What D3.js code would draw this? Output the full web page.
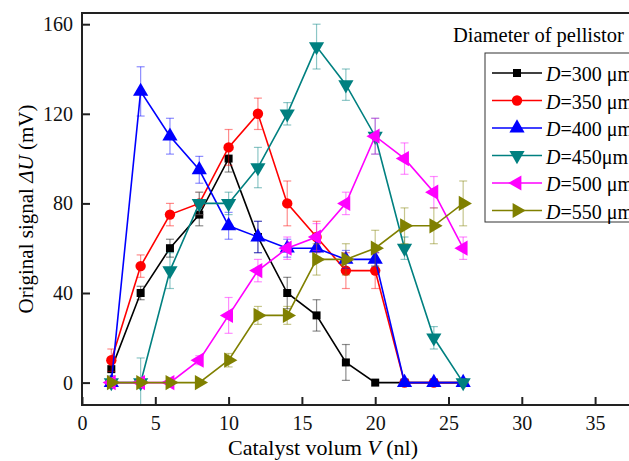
<!DOCTYPE html>
<html>
<head>
    <script src="https://d3js.org/d3.v7.min.js"></script>
    <style>
        body {margin: 0; background: #fff; font-family: "Liberation Serif", "Times New Roman", serif;}
        svg {display: block;}
        .axis path, .axis line {stroke: #222; stroke-width: 2px;}
        .axis text {font-family: "Liberation Serif", serif; font-size: 20px; fill: #111;}
    </style>
</head>
<body>
    <svg width="629" height="461"></svg>
    <script>
        // Catalyst volume (nl)
        let volumes = [2, 4, 6, 8, 10, 12, 14, 16, 18, 20, 22, 24, 26];

        // Signal (mV) and error per pellistor diameter
        let d300 = [6, 40, 60, 75, 100, 65, 40, 30, 9, 0, 0, 0, 0];
        let d300Err = [3, 3, 4, 5, 6, 7, 7, 7, 8, 0, 0, 0, 0];
        let d350 = [10, 52, 75, 80, 105, 120, 80, 65, 50, 50, 0, 0, 0];
        let d350Err = [5, 5, 5, 5, 8, 7, 10, 7, 8, 8, 0, 0, 0];
        let d400 = [0, 130, 110, 95, 70, 65, 60, 60, 55, 55, 0, 0, 0];
        let d400Err = [0, 11, 8, 6, 6, 7, 4, 4, 4, 3, 0, 0, 0];
        let d450 = [0, 0, 50, 80, 80, 96, 120, 150, 133, 110, 60, 20, 0];
        let d450Err = [0, 11, 8, 5, 5, 9, 5, 10, 7, 8, 5, 5, 0];
        let d500 = [0, 0, 0, 10, 30, 50, 60, 65, 80, 110, 100, 85, 60];
        let d500Err = [0, 0, 0, 2, 8, 5, 5, 6, 5, 8, 7, 7, 5];
        let d550 = [0, 0, 0, 0, 10, 30, 30, 55, 55, 60, 70, 70, 80];
        let d550Err = [0, 0, 0, 0, 3, 4, 4, 7, 7, 8, 8, 8, 10];

        let seriesLabels = ["300 μm", "350 μm", "400 μm", "450μm", "500 μm", "550 μm"];
        let xTicks = [0, 5, 10, 15, 20, 25, 30, 35];
        let yTicks = [0, 40, 80, 120, 160];

        let series = [
            {label: seriesLabels[0], values: d300, err: d300Err, color: "#000000", shape: "square"},
            {label: seriesLabels[1], values: d350, err: d350Err, color: "#ff0000", shape: "circle"},
            {label: seriesLabels[2], values: d400, err: d400Err, color: "#0000ff", shape: "up"},
            {label: seriesLabels[3], values: d450, err: d450Err, color: "#008080", shape: "down"},
            {label: seriesLabels[4], values: d500, err: d500Err, color: "#ff00ff", shape: "left"},
            {label: seriesLabels[5], values: d550, err: d550Err, color: "#808000", shape: "right"}
        ];

        let svg = d3.select("svg");
        let pLeft = 82, pTop = 13, pBottom = 405, pRight = 690;

        let x = d3.scaleLinear().domain([0, 40]).range([pLeft, pLeft + 40 * 14.66]);
        let y = d3.scaleLinear().domain([-10, 165]).range([pBottom, pTop]);

        svg.append("clipPath").attr("id", "plot")
            .append("rect").attr("x", pLeft).attr("y", pTop)
            .attr("width", pRight - pLeft).attr("height", pBottom - pTop);

        // Marker paths
        function marker(shape) {
            if (shape === "square") return d3.symbol().type(d3.symbolSquare).size(64)();
            if (shape === "circle") return d3.symbol().type(d3.symbolCircle).size(85)();
            return d3.symbol().type(d3.symbolTriangle).size(100)();
        }
        function rotation(shape) {
            return {down: 180, left: -90, right: 90}[shape] || 0;
        }

        let plot = svg.append("g").attr("clip-path", "url(#plot)");

        series.forEach(s => {
            let pts = volumes.map((v, i) => ({x: v, y: s.values[i], e: s.err[i]}));
            let g = plot.append("g");

            // error bars
            let eb = g.selectAll(".eb").data(pts.filter(p => p.e > 0)).enter().append("g")
                .attr("stroke", s.color).attr("stroke-opacity", 0.45).attr("stroke-width", 1.2);
            eb.append("line")
                .attr("x1", p => x(p.x)).attr("x2", p => x(p.x))
                .attr("y1", p => y(p.y - p.e)).attr("y2", p => y(p.y + p.e));
            eb.append("line")
                .attr("x1", p => x(p.x) - 4).attr("x2", p => x(p.x) + 4)
                .attr("y1", p => y(p.y + p.e)).attr("y2", p => y(p.y + p.e));
            eb.append("line")
                .attr("x1", p => x(p.x) - 4).attr("x2", p => x(p.x) + 4)
                .attr("y1", p => y(p.y - p.e)).attr("y2", p => y(p.y - p.e));

            g.append("path").datum(pts)
                .attr("fill", "none").attr("stroke", s.color).attr("stroke-width", 1.6)
                .attr("d", d3.line().x(p => x(p.x)).y(p => y(p.y)));

            g.selectAll(".mk").data(pts).enter().append("path")
                .attr("d", marker(s.shape)).attr("fill", s.color)
                .attr("transform", p => `translate(${x(p.x)},${y(p.y)}) rotate(${rotation(s.shape)})`);
        });

        // Axes (ticks point inward)
        svg.append("g").attr("class", "axis")
            .attr("transform", `translate(0,${pBottom})`)
            .call(d3.axisBottom(x).tickValues(xTicks).tickSizeInner(-8).tickSizeOuter(0).tickPadding(11));
        svg.append("g").attr("class", "axis")
            .attr("transform", `translate(${pLeft},0)`)
            .call(d3.axisLeft(y).tickValues(yTicks).tickSizeInner(-8).tickSizeOuter(0).tickPadding(9));
        svg.selectAll(".axis .domain").remove();

        // Frame
        svg.append("rect").attr("x", pLeft).attr("y", pTop)
            .attr("width", pRight - pLeft).attr("height", pBottom - pTop)
            .attr("fill", "none").attr("stroke", "#222").attr("stroke-width", 2);

        // Axis titles
        let xt = svg.append("text").attr("x", 323).attr("y", 455)
            .attr("text-anchor", "middle").attr("font-size", 22);
        xt.append("tspan").text("Catalyst volum ");
        xt.append("tspan").attr("font-style", "italic").text("V");
        xt.append("tspan").text(" (nl)");

        let yt = svg.append("text").attr("transform", "translate(33,209) rotate(-90)")
            .attr("text-anchor", "middle").attr("font-size", 21);
        yt.append("tspan").text("Original signal  ");
        yt.append("tspan").attr("font-style", "italic").text("ΔU");
        yt.append("tspan").text(" (mV)");

        // Legend
        svg.append("text").attr("x", 453).attr("y", 42).attr("font-size", 20.5)
            .text("Diameter of pellistor");
        svg.append("rect").attr("x", 485).attr("y", 53).attr("width", 200).attr("height", 169)
            .attr("fill", "#fff").attr("stroke", "#333").attr("stroke-width", 1);

        let lg = svg.selectAll(".lg").data(series).enter().append("g")
            .attr("transform", (s, i) => `translate(0,${73 + i * 27.5})`);
        lg.append("line").attr("x1", 492).attr("x2", 542)
            .attr("stroke", s => s.color).attr("stroke-width", 1.6);
        lg.append("path").attr("d", s => marker(s.shape)).attr("fill", s => s.color)
            .attr("transform", s => `translate(517,0) rotate(${rotation(s.shape)})`);
        let lt = lg.append("text").attr("x", 546).attr("y", 8).attr("font-size", 20);
        lt.append("tspan").attr("font-style", "italic").text("D");
        lt.append("tspan").text(s => "=" + s.label);
    </script>
</body>
</html>
